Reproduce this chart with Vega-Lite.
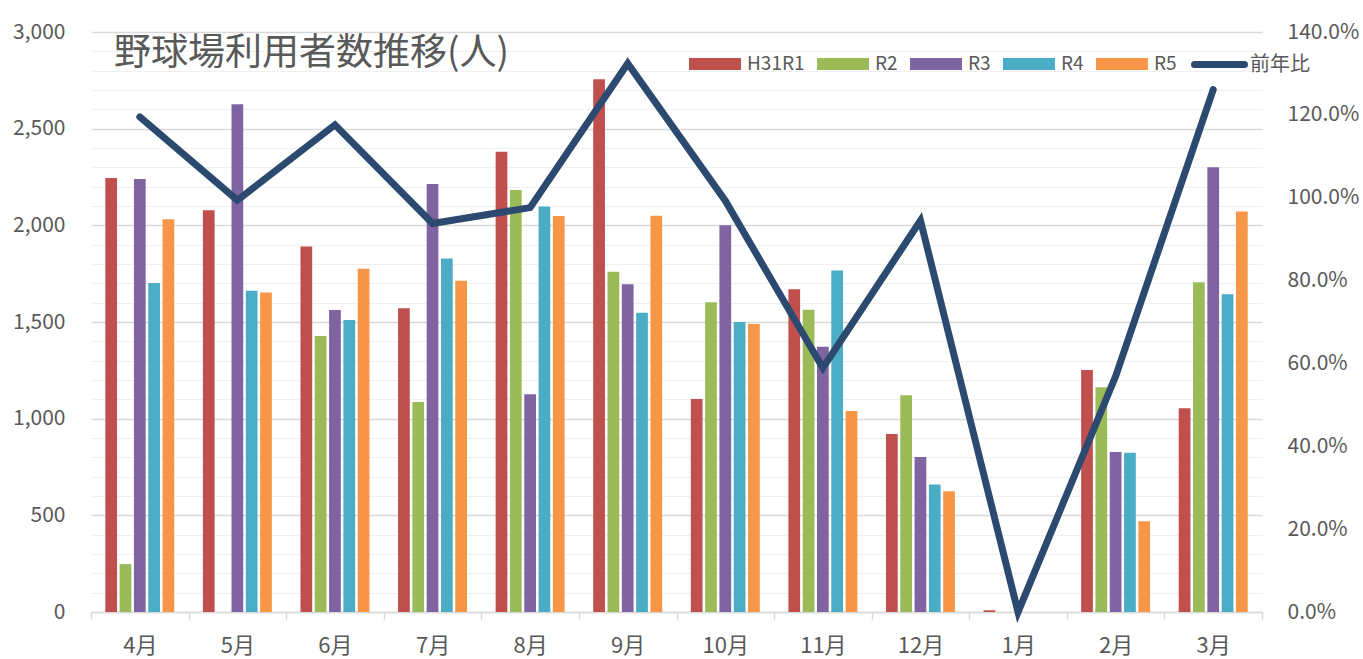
{
  "$schema": "https://vega.github.io/schema/vega-lite/v6.json",
  "width": 1171,
  "height": 580,
  "autosize": {"type": "none"},
  "padding": {"left": 91, "top": 32, "right": 101, "bottom": 47},
  "background": "white",
  "config": {
    "view": {"stroke": null},
    "font": "Noto Sans CJK JP",
    "axis": {"labelColor": "#595959", "labelFont": "Noto Sans CJK JP"},
    "legend": {"labelFont": "Noto Sans CJK JP", "labelColor": "#595959"}
  },
  "title": {
    "text": "野球場利用者数推移(人)",
    "anchor": "start",
    "frame": "group",
    "fontSize": 37,
    "fontWeight": "normal",
    "color": "#595959",
    "font": "Noto Sans CJK JP",
    "dx": 23,
    "dy": 56
  },
  "datasets": {
    "users": [
      {"month": "4月", "series": "H31R1", "value": 2245},
      {"month": "4月", "series": "R2", "value": 248},
      {"month": "4月", "series": "R3", "value": 2240},
      {"month": "4月", "series": "R4", "value": 1702},
      {"month": "4月", "series": "R5", "value": 2031},
      {"month": "5月", "series": "H31R1", "value": 2078},
      {"month": "5月", "series": "R2", "value": 0},
      {"month": "5月", "series": "R3", "value": 2626},
      {"month": "5月", "series": "R4", "value": 1662},
      {"month": "5月", "series": "R5", "value": 1652},
      {"month": "6月", "series": "H31R1", "value": 1890},
      {"month": "6月", "series": "R2", "value": 1428},
      {"month": "6月", "series": "R3", "value": 1562},
      {"month": "6月", "series": "R4", "value": 1510},
      {"month": "6月", "series": "R5", "value": 1776},
      {"month": "7月", "series": "H31R1", "value": 1571},
      {"month": "7月", "series": "R2", "value": 1086},
      {"month": "7月", "series": "R3", "value": 2214},
      {"month": "7月", "series": "R4", "value": 1828},
      {"month": "7月", "series": "R5", "value": 1714},
      {"month": "8月", "series": "H31R1", "value": 2381},
      {"month": "8月", "series": "R2", "value": 2183},
      {"month": "8月", "series": "R3", "value": 1126},
      {"month": "8月", "series": "R4", "value": 2098},
      {"month": "8月", "series": "R5", "value": 2048},
      {"month": "9月", "series": "H31R1", "value": 2755},
      {"month": "9月", "series": "R2", "value": 1760},
      {"month": "9月", "series": "R3", "value": 1695},
      {"month": "9月", "series": "R4", "value": 1548},
      {"month": "9月", "series": "R5", "value": 2050},
      {"month": "10月", "series": "H31R1", "value": 1102},
      {"month": "10月", "series": "R2", "value": 1602},
      {"month": "10月", "series": "R3", "value": 2000},
      {"month": "10月", "series": "R4", "value": 1500},
      {"month": "10月", "series": "R5", "value": 1490},
      {"month": "11月", "series": "H31R1", "value": 1669},
      {"month": "11月", "series": "R2", "value": 1564},
      {"month": "11月", "series": "R3", "value": 1372},
      {"month": "11月", "series": "R4", "value": 1767},
      {"month": "11月", "series": "R5", "value": 1040},
      {"month": "12月", "series": "H31R1", "value": 921},
      {"month": "12月", "series": "R2", "value": 1121},
      {"month": "12月", "series": "R3", "value": 802},
      {"month": "12月", "series": "R4", "value": 660},
      {"month": "12月", "series": "R5", "value": 624},
      {"month": "1月", "series": "H31R1", "value": 9},
      {"month": "1月", "series": "R2", "value": 0},
      {"month": "1月", "series": "R3", "value": 0},
      {"month": "1月", "series": "R4", "value": 0},
      {"month": "1月", "series": "R5", "value": 0},
      {"month": "2月", "series": "H31R1", "value": 1252},
      {"month": "2月", "series": "R2", "value": 1162},
      {"month": "2月", "series": "R3", "value": 828},
      {"month": "2月", "series": "R4", "value": 824},
      {"month": "2月", "series": "R5", "value": 469},
      {"month": "3月", "series": "H31R1", "value": 1054},
      {"month": "3月", "series": "R2", "value": 1705},
      {"month": "3月", "series": "R3", "value": 2300},
      {"month": "3月", "series": "R4", "value": 1643},
      {"month": "3月", "series": "R5", "value": 2071}
    ],
    "ratio": [
      {"month": "4月", "ratio": 1.195},
      {"month": "5月", "ratio": 0.994},
      {"month": "6月", "ratio": 1.176},
      {"month": "7月", "ratio": 0.938},
      {"month": "8月", "ratio": 0.976},
      {"month": "9月", "ratio": 1.324},
      {"month": "10月", "ratio": 0.993},
      {"month": "11月", "ratio": 0.589},
      {"month": "12月", "ratio": 0.945},
      {"month": "1月", "ratio": 0},
      {"month": "2月", "ratio": 0.569},
      {"month": "3月", "ratio": 1.261}
    ]
  },
  "layer": [
    {
      "data": {"name": "users"},
      "mark": {"type": "bar"},
      "encoding": {
        "x": {
          "field": "month",
          "type": "nominal",
          "sort": ["4月", "5月", "6月", "7月", "8月", "9月", "10月", "11月", "12月", "1月", "2月", "3月"],
          "scale": {"paddingInner": 0, "paddingOuter": 0},
          "axis": {
            "title": null,
            "labelAngle": 0,
            "labelFontSize": 22,
            "labelPadding": 16,
            "tickBand": "extent",
            "tickSize": 7,
            "tickColor": "#d9d9d9",
            "tickWidth": 1.5,
            "domainColor": "#d9d9d9",
            "domainWidth": 1.5,
            "grid": false
          }
        },
        "xOffset": {
          "field": "series",
          "type": "nominal",
          "sort": ["H31R1", "R2", "R3", "R4", "R5"],
          "scale": {"paddingInner": 0.18, "paddingOuter": 1.015}
        },
        "y": {
          "field": "value",
          "type": "quantitative",
          "scale": {"domain": [0, 3000]},
          "axis": {
            "title": null,
            "values": [0, 100, 200, 300, 400, 500, 600, 700, 800, 900, 1000, 1100, 1200, 1300, 1400, 1500, 1600, 1700, 1800, 1900, 2000, 2100, 2200, 2300, 2400, 2500, 2600, 2700, 2800, 2900, 3000],
            "format": ",d",
            "labelExpr": "datum.value % 500 === 0 ? datum.label : ''",
            "gridColor": {"condition": {"test": "datum.value % 500 === 0", "value": "#d9d9d9"}, "value": "#f0f0f0"},
            "gridWidth": {"condition": {"test": "datum.value % 500 === 0", "value": 1.5}, "value": 1},
            "domain": false,
            "ticks": false,
            "labelFontSize": 21,
            "labelPadding": 26
          }
        },
        "color": {
          "field": "series",
          "type": "nominal",
          "scale": {
            "domain": ["H31R1", "R2", "R3", "R4", "R5"],
            "range": ["#C0504D", "#9BBB59", "#8064A2", "#4BACC6", "#F79646"]
          },
          "legend": {
            "title": null,
            "orient": "none",
            "legendX": 598,
            "legendY": 6,
            "direction": "horizontal",
            "padding": 0,
            "symbolType": "M-1,-0.23H1V0.23H-1Z",
            "symbolSize": 2704,
            "symbolStrokeWidth": 0,
            "labelFontSize": 19,
            "labelOffset": 6,
            "columnPadding": 12
          }
        }
      }
    },
    {
      "data": {"name": "ratio"},
      "mark": {"type": "line", "strokeWidth": 7, "strokeCap": "round", "strokeJoin": "miter"},
      "encoding": {
        "x": {
          "field": "month",
          "type": "nominal",
          "sort": ["4月", "5月", "6月", "7月", "8月", "9月", "10月", "11月", "12月", "1月", "2月", "3月"]
        },
        "y": {
          "field": "ratio",
          "type": "quantitative",
          "scale": {"domain": [0, 1.4]},
          "axis": {
            "orient": "right",
            "title": null,
            "values": [0, 0.2, 0.4, 0.6, 0.8, 1, 1.2, 1.4],
            "format": ".1%",
            "grid": false,
            "domain": false,
            "ticks": false,
            "labelFontSize": 21,
            "labelPadding": 25
          }
        },
        "stroke": {
          "datum": "前年比",
          "type": "nominal",
          "scale": {"range": ["#2C4A70"]},
          "legend": {
            "title": null,
            "orient": "none",
            "legendX": 1100,
            "legendY": 4,
            "direction": "horizontal",
            "padding": 0,
            "symbolType": "M-1,0H1",
            "symbolSize": 2500,
            "symbolStrokeWidth": 7,
            "labelFontSize": 20,
            "labelOffset": 2,
            "encode": {"symbols": {"update": {"strokeCap": {"value": "round"}}}}
          }
        }
      }
    }
  ],
  "resolve": {"scale": {"y": "independent", "color": "independent", "stroke": "independent"}}
}
